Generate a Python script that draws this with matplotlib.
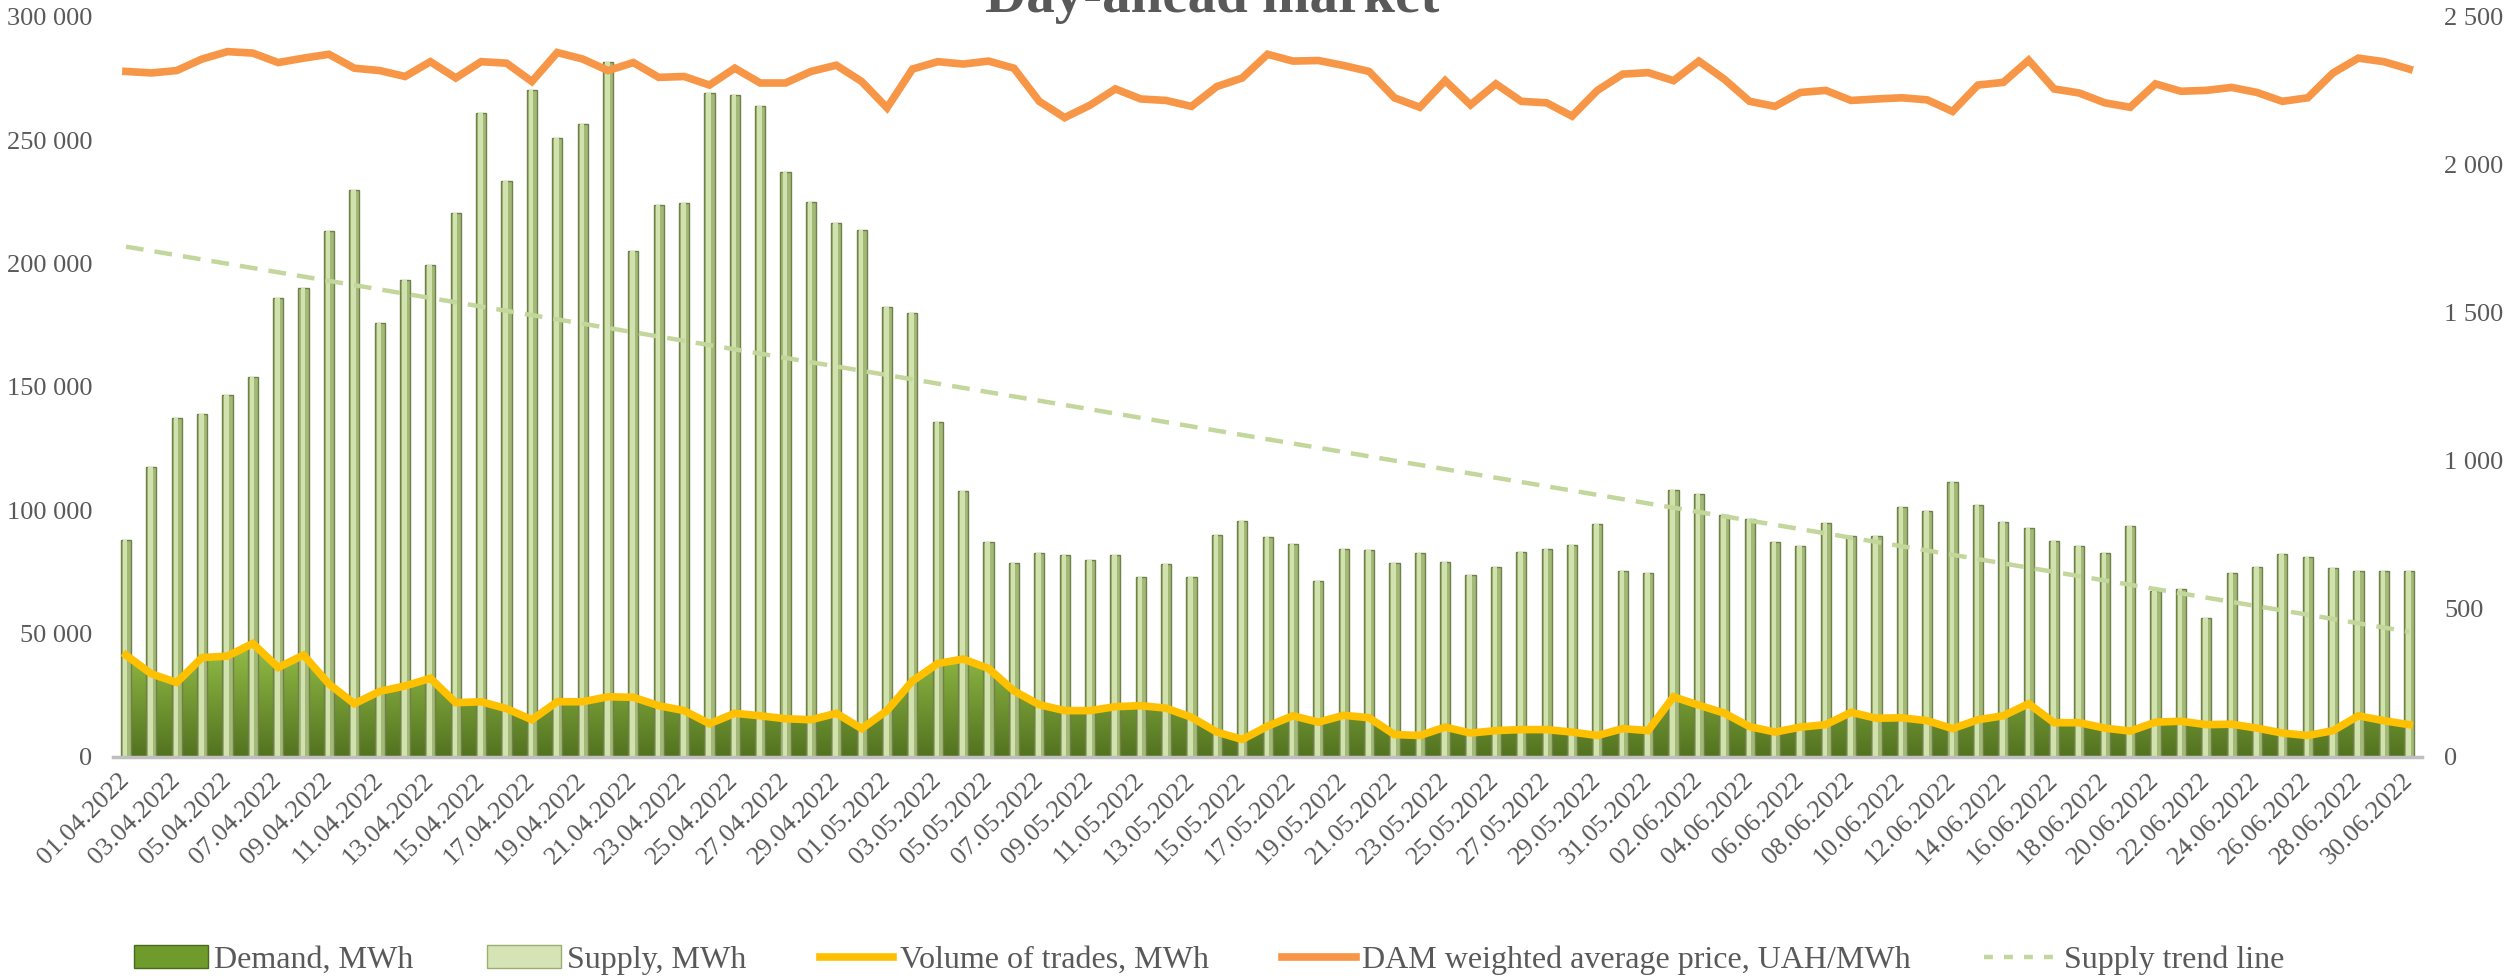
import matplotlib
matplotlib.use("Agg")
import matplotlib.pyplot as plt
import numpy as np
import pandas as pd
from matplotlib.colors import LinearSegmentedColormap
from matplotlib.lines import Line2D
from matplotlib.patches import Patch
from matplotlib.ticker import FuncFormatter

# -------------------------------------------------
# Data, 01.04.2022 - 30.06.2022
# -------------------------------------------------

dates = pd.date_range("2022-04-01", "2022-06-30", freq="D")
labels = [d.strftime("%d.%m.%Y") for d in dates]

supply = [
    88100, 117500, 137500, 138900, 146600, 154200, 186100, 190100, 213300, 229800,
    175800, 193300, 199600, 220400, 260900, 233700, 270400, 250800, 256500, 281900,
    205000, 223600, 224400, 269000, 268300, 263900, 237100, 225000, 216300, 213700,
    182500, 180000, 136000, 108000, 87000, 78800, 82500, 81900, 80000, 81900,
    73000, 78200, 73000, 90100, 95800, 89100, 86300, 71200, 84300, 84100,
    78600, 82700, 79000, 73600, 77000, 83300, 84300, 86100, 94400, 75200,
    74600, 108300, 106600, 98000, 96300, 87300, 85700, 94800, 89700, 89700,
    101200, 99800, 111500, 102200, 95400, 92700, 87500, 85700, 82700, 93800,
    67100, 68100, 56500, 74600, 77200, 82100, 81000, 76600, 75200, 75600,
    75600,
]

demand = [
    40800, 33200, 29800, 39700, 40300, 45300, 35800, 40600, 29100, 21200,
    26100, 28300, 31300, 21600, 21900, 19200, 14800, 21900, 21900, 23900,
    23700, 20400, 18400, 13200, 17300, 16300, 15100, 14800, 17300, 11200,
    18400, 30300, 37300, 39100, 35300, 26300, 20800, 18400, 18400, 20000,
    20400, 19400, 15800, 9900, 6900, 12200, 16300, 13800, 16500, 15600,
    8900, 8500, 11800, 9500, 10400, 10800, 10800, 9900, 8500, 11200,
    10400, 23900, 20600, 17400, 12000, 9900, 11800, 12800, 17700, 15400,
    15600, 14400, 11200, 14800, 16300, 21100, 13600, 13600, 11400, 10300,
    13800, 14200, 12800, 13000, 11400, 9500, 8500, 10400, 16300, 14400,
    12800,
]

volume = [
    41300, 33700, 30200, 40300, 40900, 46000, 36300, 41300, 29600, 21600,
    26600, 28800, 31900, 22000, 22400, 19600, 15100, 22400, 22400, 24400,
    24200, 20800, 18800, 13500, 17700, 16700, 15500, 15100, 17700, 11500,
    18800, 30800, 37900, 39700, 35900, 26800, 21200, 18800, 18800, 20400,
    20800, 19800, 16100, 10100, 7100, 12500, 16700, 14100, 16900, 15900,
    9100, 8700, 12100, 9700, 10700, 11100, 11100, 10100, 8700, 11500,
    10700, 24400, 21000, 17800, 12300, 10100, 12100, 13100, 18100, 15700,
    15900, 14700, 11500, 15100, 16700, 21600, 13900, 13900, 11700, 10500,
    14100, 14500, 13100, 13300, 11700, 9700, 8700, 10700, 16700, 14700,
    13100,
]

price = [
    2316, 2311, 2319, 2358, 2383, 2378, 2346, 2361, 2374, 2327,
    2319, 2299, 2349, 2294, 2349, 2344, 2282, 2380, 2358, 2319,
    2346, 2296, 2299, 2270, 2327, 2277, 2277, 2316, 2337, 2282,
    2193, 2324, 2349, 2341, 2351, 2327, 2215, 2160, 2202, 2257,
    2223, 2218, 2198, 2265, 2294, 2374, 2351, 2353, 2336, 2316,
    2227, 2195, 2285, 2203, 2274, 2215, 2210, 2165, 2252, 2307,
    2312, 2285, 2351, 2290, 2215, 2198, 2245, 2252, 2218, 2223,
    2227, 2220, 2181, 2270, 2279, 2354, 2257, 2243, 2210, 2195,
    2274, 2249, 2252, 2262, 2245, 2215, 2227, 2311, 2361, 2349,
    2324,
]

x = np.arange(len(labels))

# linear trend of supply (as Excel does)
coef = np.polyfit(x, supply, 1)
trend = np.polyval(coef, x)

# -------------------------------------------------
# Plot
# -------------------------------------------------

plt.rcParams["font.family"] = ["Liberation Serif", "DejaVu Serif"]
text_color = "#595959"

fig = plt.figure(figsize=(25.17, 9.76), dpi=100)
ax = fig.add_axes([0.04501, 0.2244, 0.9172, 0.7582])

# Demand area with vertical gradient
area = ax.fill_between(x, 0, demand, color="none", zorder=1)
grad = np.linspace(0, 1, 256).reshape(-1, 1)
cmap = LinearSegmentedColormap.from_list("dem", ["#52721f", "#93bd47"])
img = ax.imshow(grad, cmap=cmap, origin="lower", aspect="auto",
                extent=[x[0], x[-1], 0, max(demand)], zorder=1)
img.set_clip_path(area.get_paths()[0], transform=ax.transData)

# Supply bars: outer shaded bar + light inner strip
ax.bar(x, supply, width=0.40, color="#a3b978", edgecolor="#6f8049",
       linewidth=1.0, zorder=2)
ax.bar(x - 0.03, supply, width=0.18, color="#d2e2ae", linewidth=0, zorder=2)

# Trend line and volume of trades
ax.plot(x, trend, color="#c3d69b", lw=3.2, dashes=(4, 2.5), zorder=3)
ax.plot(x, volume, color="#ffc000", lw=5.5, solid_joinstyle="miter", zorder=4)

ax.set_xlim(-0.5, len(x) - 0.5)
ax.set_ylim(0, 300000)
ax.set_yticks(np.arange(0, 300001, 50000))

# Price on secondary axis
ax2 = ax.twinx()
ax2.plot(x, price, color="#f79646", lw=5.5, solid_joinstyle="miter", zorder=5)
ax2.set_ylim(0, 2500)
ax2.set_yticks(np.arange(0, 2501, 500))

space_fmt = FuncFormatter(lambda v, p: f"{int(v):,}".replace(",", " "))
ax.yaxis.set_major_formatter(space_fmt)
ax2.yaxis.set_major_formatter(space_fmt)

ax.set_xticks(x[::2])
ax.set_xticklabels(labels[::2], rotation=45, ha="right", va="center",
                   rotation_mode="anchor")

for a in (ax, ax2):
    for s in a.spines.values():
        s.set_visible(False)
    a.tick_params(length=0, labelsize=19, labelcolor=text_color)
ax.tick_params(axis="y", pad=15)
ax2.tick_params(axis="y", pad=16)
ax.tick_params(axis="x", pad=14)

ax.spines["bottom"].set_visible(True)
ax.spines["bottom"].set_color("#bfbfbf")
ax.spines["bottom"].set_linewidth(2.5)

fig.text(0.4815, 0.9877, "Day-ahead market", ha="center", va="baseline",
         fontsize=41, fontweight="bold", color=text_color)

handles = [
    Patch(facecolor="#6f9a2c", edgecolor="#4a6a1c"),
    Patch(facecolor="#d6e4b5", edgecolor="#9aae70"),
    Line2D([], [], color="#ffc000", lw=5.5),
    Line2D([], [], color="#f79646", lw=5.5),
    Line2D([], [], color="#c3d69b", lw=3.2, dashes=(2, 2.5)),
]
names = [
    "Demand, MWh",
    "Supply, MWh",
    "Volume of trades, MWh",
    "DAM weighted average price, UAH/MWh",
    "Supply trend line",
]
leg = fig.legend(handles, names, loc="center", ncol=5,
                 bbox_to_anchor=(0.4805, 1 - 960 / 976), frameon=False,
                 fontsize=23, handlelength=2.3, handletextpad=0.2,
                 columnspacing=2.3)
for t in leg.get_texts():
    t.set_color(text_color)

fig.savefig("out.png", dpi=100)
